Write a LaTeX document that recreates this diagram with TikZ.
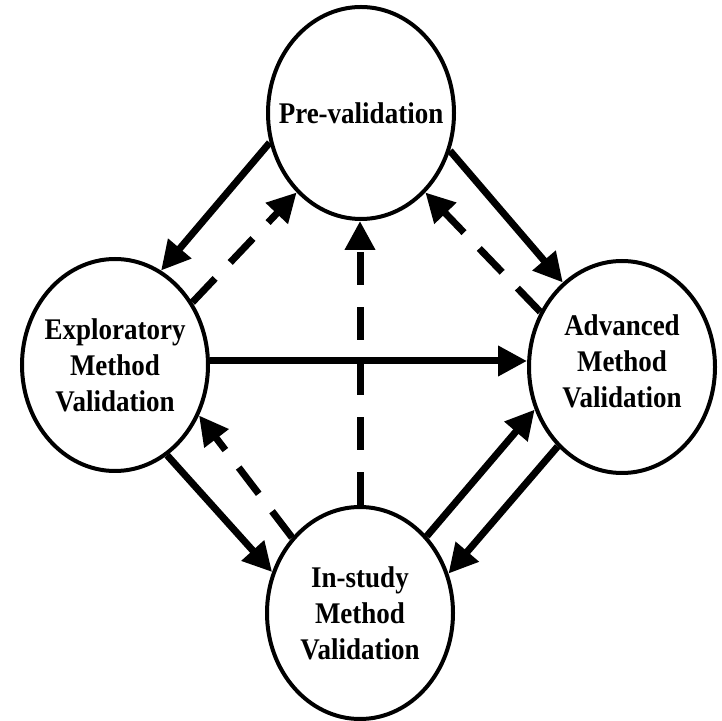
\documentclass[tikz,border=0pt]{standalone}
\usepackage{fontspec}
\setmainfont{Liberation Serif}[FakeStretch=0.9]
\usetikzlibrary{shapes.geometric,arrows.meta}
\begin{document}
\begin{tikzpicture}[x=1pt,y=1pt,
  stage/.style={draw, ellipse, line width=4pt, minimum width=186pt, minimum height=212pt, inner sep=0pt},
  lbl/.style={align=center, font=\fontsize{30}{36}\selectfont\bfseries, inner sep=0pt},
  flow/.style={line width=7pt, -{Triangle[length=29pt,width=29pt]}},
  back/.style={flow, dash pattern=on 33pt off 22pt}]
\useasboundingbox (0,0) rectangle (722,720);
\node[stage] (pre) at (361,607) {};
\node[stage] (expl) at (115,355) {};
\node[stage] (adv) at (622,353) {};
\node[stage] (ins) at (360,107) {};
\node[lbl] (pretext) at (pre.center) {Pre-validation};
\node[lbl] (expltext) at (expl.center) {Exploratory\\Method\\Validation};
\node[lbl] (advtext) at ([yshift=6pt]adv.center) {Advanced\\Method\\Validation};
\node[lbl] (instext) at (ins.center) {In-study\\Method\\Validation};
% solid arrows
\draw[flow] (pre.198) -- (expl.64);
\draw[flow] (pre.337) -- (adv.125);
\draw[flow] ([yshift=4pt]expl.east) -- ([yshift=4pt]expl.east -| adv.west);
\draw[flow] (expl.300) -- (ins.155);
\draw[flow] (ins.49) -- (adv.206);
\draw[flow] (adv.231) -- (ins.24);
% dashed arrows
\draw[back] (expl.39) -- (pre.231);
\draw[back] (adv.146) -- (pre.309);
\draw[back] (ins.north) -- (ins.north |- pre.south);
\draw[back] (ins.132) -- (expl.329);
\end{tikzpicture}
\end{document}
